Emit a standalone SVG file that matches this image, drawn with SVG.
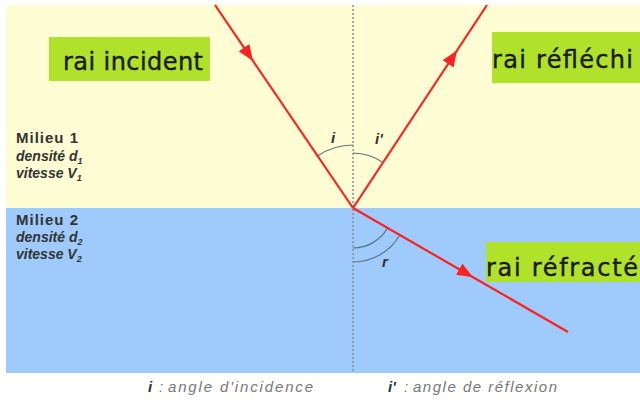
<svg xmlns="http://www.w3.org/2000/svg" width="640" height="403" viewBox="0 0 640 403">
<style>
.lbl{fill:#B0E22C}
.lt{font-family:"DejaVu Sans",sans-serif;font-size:24px;fill:#1a1a1a;stroke:#1a1a1a;stroke-width:0.4}
.med{font-family:"Liberation Sans",Arial,sans-serif;font-size:14px;font-weight:bold;fill:#333}
.big{font-size:15px}
.it{font-style:italic}
.ang{font-family:"Liberation Sans",Arial,sans-serif;font-size:15px;font-weight:bold;font-style:italic;fill:#333}
.cap{font-family:"Liberation Sans",Arial,sans-serif;font-size:15px;font-style:italic;fill:#777}
.ray{stroke:#FF2020;stroke-width:2.2;fill:none;marker-mid:url(#arr)}
.arc{stroke:#5F7080;stroke-width:1.2;fill:none}
</style>
<defs>
<marker id="arr" markerUnits="userSpaceOnUse" markerWidth="17" markerHeight="13" refX="16" refY="6.5" orient="auto">
<path d="M0,0 L16,6.5 L0,13 Z" fill="#FF2020"/>
</marker>
</defs>
<rect x="0" y="0" width="640" height="403" fill="#fff"/>
<g id="milieu1">
<rect x="6" y="5" width="634" height="203" fill="#FFFDD3"/>
<text class="med big" x="16" y="143" letter-spacing="1">Milieu 1</text>
<text class="med it" x="16" y="161">densité d<tspan font-size="9" dy="3">1</tspan></text>
<text class="med it" x="16" y="178">vitesse V<tspan font-size="9" dy="3">1</tspan></text>
</g>
<g id="milieu2">
<rect x="6" y="208" width="634" height="165" fill="#9ECBFB"/>
<text class="med big" x="16" y="225" letter-spacing="1">Milieu 2</text>
<text class="med it" x="16" y="242">densité d<tspan font-size="9" dy="3">2</tspan></text>
<text class="med it" x="16" y="259">vitesse V<tspan font-size="9" dy="3">2</tspan></text>
</g>
<g id="normale">
<line x1="353" y1="5" x2="353" y2="373" stroke="#8A9096" stroke-width="1.5" stroke-dasharray="2 2"/>
</g>
<g id="angles">
<path class="arc" d="M353,145 A63,63 0 0 0 317.6,155.9"/>
<path class="arc" d="M353,153 A55,55 0 0 1 383,162.5"/>
<path class="arc" d="M353,248 A40,40 0 0 0 387.6,228"/>
<path class="arc" d="M353,262 A54,54 0 0 0 399.8,235"/>
<text class="ang" x="331" y="143">i</text>
<text class="ang" x="375" y="144">i'</text>
<text class="ang" x="382" y="267">r</text>
</g>
<g id="connectors">
<polyline class="ray" points="215,5 253,60.9 353,208"/>
<polyline class="ray" points="353,208 457,50.5 487,5"/>
<polyline class="ray" points="353,208 473,277.2 568,332"/>
</g>
<g id="rai-incident">
<rect class="lbl" x="49" y="37" width="161" height="44"/>
<text class="lt" x="63" y="70" textLength="140" lengthAdjust="spacing">rai incident</text>
</g>
<g id="rai-reflechi">
<rect class="lbl" x="492" y="32" width="148" height="51"/>
<text class="lt" x="492" y="68" textLength="141" lengthAdjust="spacing">rai réfléchi</text>
</g>
<g id="rai-refracte">
<rect class="lbl" x="486" y="242" width="154" height="40"/>
<text class="lt" x="486" y="276" textLength="152" lengthAdjust="spacing">rai réfracté</text>
</g>
<g id="legende">
<text class="ang" x="148" y="392">i</text>
<text class="cap" x="159" y="392">:</text>
<text class="cap" x="168" y="392" textLength="145" lengthAdjust="spacing">angle d'incidence</text>
<text class="ang" x="388" y="392">i'</text>
<text class="cap" x="404" y="392">:</text>
<text class="cap" x="413" y="392" textLength="144" lengthAdjust="spacing">angle de réflexion</text>
</g>
</svg>
